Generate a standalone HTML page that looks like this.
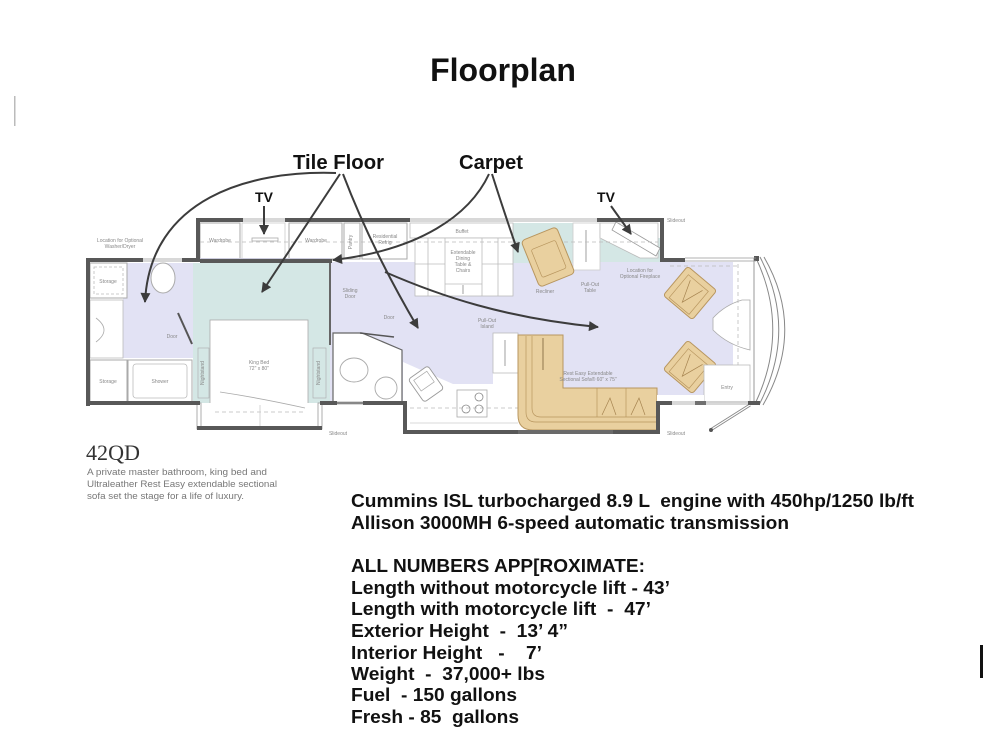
<!DOCTYPE html>
<html><head><meta charset="utf-8">
<style>
html,body{margin:0;padding:0;background:#fff;}
svg{display:block;}
</style></head><body>
<svg width="1000" height="750" viewBox="0 0 1000 750" xmlns="http://www.w3.org/2000/svg" font-family="Liberation Sans, Arial, sans-serif">
<defs>
<marker id="ah" viewBox="0 0 10 10" refX="9" refY="5" markerUnits="userSpaceOnUse" markerWidth="11" markerHeight="10" orient="auto">
<path d="M0,0 L10,5 L0,10 Z" fill="#3c3c3c"/>
</marker>
</defs>
<rect width="1000" height="750" fill="#fff"/>

<!-- page edge marks -->
<rect x="14" y="96" width="1.5" height="30" fill="#bbb"/>
<rect x="980" y="645" width="3" height="33" fill="#111"/>

<!-- Title -->
<text x="503" y="81" font-size="32" font-weight="bold" text-anchor="middle" fill="#111">Floorplan</text>

<!-- ====== FLOORPLAN ====== -->
<rect x="123" y="263" width="70" height="95" fill="#e2e2f4"/>
<rect x="193" y="263" width="137" height="140" fill="#d4e7e5"/>
<rect x="330" y="262" width="422" height="140" fill="#e2e2f4"/>
<rect x="513" y="223" width="60" height="40" fill="#d4e7e5"/>
<rect x="600" y="238" width="60" height="24" fill="#d4e7e5"/>

<rect x="200" y="223" width="40" height="36" fill="#fff" stroke="#aaa" stroke-width="1"/>
<rect x="242" y="223" width="43" height="36" fill="#fff" stroke="#ccc" stroke-width="0.8"/>
<rect x="252" y="238" width="26" height="3" fill="none" stroke="#aaa" stroke-width="0.8"/>
<rect x="289" y="223" width="53" height="36" fill="#fff" stroke="#aaa" stroke-width="1"/>
<rect x="344" y="223" width="16" height="36" fill="#fff" stroke="#aaa" stroke-width="1"/>
<rect x="362" y="223" width="45" height="36" fill="#fff" stroke="#aaa" stroke-width="1"/>
<rect x="200" y="258" width="130" height="4" fill="#ccd"/>

<rect x="410" y="223" width="103" height="15" fill="#fff" stroke="#bbb" stroke-width="0.8"/>
<rect x="415" y="238" width="98" height="58" fill="#fff" stroke="#bbb" stroke-width="0.8"/>
<line x1="428" y1="238" x2="428" y2="296" stroke="#bbb" stroke-width="0.8"/>
<line x1="445" y1="238" x2="445" y2="296" stroke="#bbb" stroke-width="0.8"/>
<line x1="482" y1="238" x2="482" y2="296" stroke="#bbb" stroke-width="0.8"/>
<line x1="498" y1="238" x2="498" y2="296" stroke="#bbb" stroke-width="0.8"/>
<line x1="415" y1="264" x2="445" y2="264" stroke="#bbb" stroke-width="0.8"/>
<line x1="482" y1="264" x2="513" y2="264" stroke="#bbb" stroke-width="0.8"/>
<line x1="445" y1="284" x2="482" y2="284" stroke="#bbb" stroke-width="0.8"/>
<line x1="463" y1="285" x2="463" y2="294" stroke="#888" stroke-width="0.8"/>

<rect x="573" y="223" width="27" height="47" fill="#fff" stroke="#ccc" stroke-width="0.8"/>
<line x1="586" y1="230" x2="586" y2="262" stroke="#888" stroke-width="0.8"/>
<rect x="600" y="223" width="58" height="16" fill="#fff"/>
<polygon points="600,223 658,223 658,258 640,258 600,238" fill="#fff" stroke="#bbb" stroke-width="0.8"/>
<polygon points="616,222 660,248 656,256 612,230" fill="#fff" stroke="#999" stroke-width="0.8"/>

<line x1="200" y1="242" x2="658" y2="242" stroke="#bbb" stroke-width="0.8" stroke-dasharray="4,3"/>

<!-- rear bath -->
<rect x="90" y="263" width="37" height="35" fill="#fff" stroke="#aaa" stroke-width="1"/>
<rect x="94" y="267" width="29" height="27" fill="none" stroke="#bbb" stroke-width="0.8" stroke-dasharray="3,2"/>
<rect x="90" y="300" width="33" height="58" fill="#fff" stroke="#bbb" stroke-width="0.8"/>
<path d="M96,318 Q112,330 96,342" fill="none" stroke="#aaa" stroke-width="0.8"/>
<rect x="90" y="360" width="37" height="42" fill="#fff" stroke="#aaa" stroke-width="1"/>
<rect x="128" y="360" width="64" height="42" fill="#fff" stroke="#aaa" stroke-width="1"/>
<rect x="133" y="364" width="54" height="34" rx="3" fill="none" stroke="#bbb" stroke-width="0.8"/>
<ellipse cx="163" cy="278" rx="12" ry="15" fill="#fff" stroke="#aaa" stroke-width="1"/>
<line x1="178" y1="313" x2="192" y2="344" stroke="#555" stroke-width="2"/>

<!-- bedroom -->
<polygon points="193,332 210,320 308,320 330,332 330,403 193,403" fill="#d4e7e5"/>
<rect x="210" y="320" width="98" height="85" fill="#fff" stroke="#aaa" stroke-width="0.8"/>
<rect x="198" y="348" width="11" height="50" fill="#d4e7e5" stroke="#aaa" stroke-width="0.6"/>
<rect x="313" y="348" width="13" height="50" fill="#d4e7e5" stroke="#aaa" stroke-width="0.6"/>
<rect x="197" y="403" width="125" height="25" fill="#fff"/>
<line x1="215" y1="412" x2="305" y2="412" stroke="#bbb" stroke-width="0.8" stroke-dasharray="4,3"/>
<path d="M220,392 Q260,398 305,408" fill="none" stroke="#aaa" stroke-width="0.8"/>
<line x1="260" y1="405" x2="260" y2="428" stroke="#ccc" stroke-width="0.8"/>
<rect x="197" y="403" width="4" height="26" fill="#fff" stroke="#999" stroke-width="0.8"/>
<rect x="318" y="403" width="4" height="26" fill="#fff" stroke="#999" stroke-width="0.8"/>

<!-- mid bath -->
<polygon points="333,333 362,333 402,350 402,403 333,403" fill="#fff" stroke="#666" stroke-width="1.2"/>
<ellipse cx="354" cy="370" rx="14" ry="12" fill="#fff" stroke="#aaa" stroke-width="0.9"/>
<circle cx="386" cy="388" r="11" fill="#fff" stroke="#aaa" stroke-width="0.9"/>
<line x1="360" y1="333" x2="394" y2="337" stroke="#555" stroke-width="1.5"/>
<line x1="330" y1="262" x2="330" y2="345" stroke="#666" stroke-width="2"/>

<!-- kitchen -->
<polygon points="403,362 453,384 493,384 493,373 518,373 518,432 403,432" fill="#fff"/>
<rect x="493" y="333" width="25" height="40" fill="#fff" stroke="#bbb" stroke-width="0.8"/>
<line x1="505" y1="340" x2="505" y2="366" stroke="#888" stroke-width="0.8"/>
<rect x="457" y="390" width="30" height="27" fill="#fff" stroke="#aaa" stroke-width="0.8"/>
<circle cx="479" cy="397" r="4" fill="none" stroke="#888" stroke-width="0.8"/>
<circle cx="466" cy="409" r="4" fill="none" stroke="#888" stroke-width="0.8"/>
<circle cx="479" cy="409" r="4" fill="none" stroke="#888" stroke-width="0.8"/>
<line x1="410" y1="408" x2="518" y2="408" stroke="#bbb" stroke-width="0.8" stroke-dasharray="4,3"/>
<line x1="410" y1="423" x2="518" y2="423" stroke="#ccc" stroke-width="0.8"/>
<g transform="translate(426,384) rotate(-35)">
<rect x="-12" y="-14" width="24" height="28" rx="3" fill="#fff" stroke="#999" stroke-width="0.9"/>
<rect x="-8" y="-10" width="16" height="13" fill="none" stroke="#aaa" stroke-width="0.7"/>
</g>

<!-- sofa -->
<path d="M518,335 L563,335 L563,388 L657,388 L657,430 L533,430 Q518,430 518,415 Z" fill="#e9d09f" stroke="#b8965f" stroke-width="1"/>
<path d="M526,336 L526,412 Q526,422 536,422 L657,422" fill="none" stroke="#b8965f" stroke-width="0.7"/>
<path d="M532,336 L532,408 Q532,417 541,417 L657,417" fill="none" stroke="#b8965f" stroke-width="0.7"/>
<line x1="597" y1="388" x2="597" y2="417" stroke="#b8965f" stroke-width="0.7"/>
<line x1="626" y1="388" x2="626" y2="417" stroke="#b8965f" stroke-width="0.7"/>
<path d="M602,415 L610,398 L616,415 M631,415 L639,398 L645,415" fill="none" stroke="#a5834f" stroke-width="0.7"/>
<line x1="543" y1="338" x2="543" y2="370" stroke="#7a6038" stroke-width="0.8"/>

<!-- recliner -->
<g transform="translate(548,257) rotate(-22)">
<rect x="-19" y="-25" width="38" height="50" rx="4" fill="#e9d09f" stroke="#b8965f" stroke-width="1"/>
<rect x="-13" y="-13" width="26" height="30" rx="2" fill="none" stroke="#b8965f" stroke-width="0.7"/>
</g>

<!-- front chairs -->
<g transform="translate(690,293) rotate(40)">
<rect x="-19" y="-19" width="38" height="38" rx="3" fill="#e9d09f" stroke="#b8965f" stroke-width="1"/>
<rect x="-13" y="-13" width="26" height="30" fill="none" stroke="#b8965f" stroke-width="0.7"/>
<path d="M-8,-10 L0,12 L8,-10" fill="none" stroke="#a5834f" stroke-width="0.7"/>
</g>
<g transform="translate(690,367) rotate(40)">
<rect x="-19" y="-19" width="38" height="38" rx="3" fill="#e9d09f" stroke="#b8965f" stroke-width="1"/>
<rect x="-13" y="-13" width="26" height="30" fill="none" stroke="#b8965f" stroke-width="0.7"/>
<path d="M-8,-10 L0,12 L8,-10" fill="none" stroke="#a5834f" stroke-width="0.7"/>
</g>

<!-- front section -->
<rect x="733" y="262" width="22" height="140" fill="#fff"/>
<path d="M713,318 Q725,305 742,300 L750,300 L750,350 Q728,345 713,330 Z" fill="#fff" stroke="#aaa" stroke-width="0.8"/>
<line x1="738" y1="264" x2="738" y2="400" stroke="#bbb" stroke-width="0.8" stroke-dasharray="4,3"/>
<line x1="670" y1="266" x2="738" y2="266" stroke="#bbb" stroke-width="0.8" stroke-dasharray="4,3"/>
<rect x="704" y="365" width="46" height="37" fill="#fff" stroke="#bbb" stroke-width="0.8"/>
<rect x="657" y="395" width="47" height="8" fill="#fff"/>
<path d="M756,258 Q790,330 755,404" fill="none" stroke="#888" stroke-width="1"/>
<path d="M760,257 Q798,330 759,405" fill="none" stroke="#888" stroke-width="1"/>
<path d="M764,257 Q806,330 763,405" fill="none" stroke="#888" stroke-width="1"/>
<line x1="754" y1="258" x2="754" y2="404" stroke="#999" stroke-width="1"/>
<line x1="750" y1="405" x2="712" y2="429" stroke="#888" stroke-width="3"/>
<line x1="750" y1="405" x2="712" y2="429" stroke="#fff" stroke-width="1.2"/>
<circle cx="711" cy="430" r="2" fill="#555"/>

<!-- ===== WALLS ===== -->
<g fill="#585858">
<rect x="86" y="258" width="4" height="148"/>
<rect x="86" y="258" width="57" height="4"/>
<rect x="182" y="258" width="18" height="4"/>
<rect x="196" y="218" width="4" height="44"/>
<rect x="196" y="218" width="47" height="4"/>
<rect x="285" y="218" width="125" height="4"/>
<rect x="597" y="218" width="67" height="4"/>
<rect x="660" y="218" width="4" height="44"/>
<rect x="660" y="258" width="25" height="4"/>
<rect x="200" y="259" width="132" height="4"/>
<rect x="86" y="401" width="114" height="4"/>
<rect x="197" y="426" width="125" height="4"/>
<rect x="320" y="401" width="17" height="4"/>
<rect x="363" y="401" width="44" height="4"/>
<rect x="403" y="401" width="4" height="33"/>
<rect x="403" y="430" width="115" height="4"/>
<rect x="613" y="430" width="47" height="4"/>
<rect x="656" y="401" width="4" height="33"/>
<rect x="656" y="401" width="16" height="4"/>
<rect x="695" y="401" width="11" height="4"/>
<rect x="748" y="401" width="12" height="4"/>
<rect x="754" y="256" width="5" height="5"/>
</g>
<g stroke="#999" stroke-width="0.8" fill="none">
<line x1="243" y1="219" x2="285" y2="219"/><line x1="243" y1="221" x2="285" y2="221"/>
<line x1="410" y1="219" x2="597" y2="219"/><line x1="410" y1="221" x2="597" y2="221"/>
<line x1="685" y1="258" x2="756" y2="258"/><line x1="685" y1="261" x2="756" y2="261"/>
<line x1="143" y1="259" x2="182" y2="259"/><line x1="143" y1="261" x2="182" y2="261"/>
<line x1="337" y1="402" x2="363" y2="402"/><line x1="337" y1="404" x2="363" y2="404"/>
<line x1="672" y1="402" x2="748" y2="402"/><line x1="672" y1="404" x2="748" y2="404"/>
</g>
<rect x="518" y="430" width="95" height="4" fill="#6a6a6a"/>

<!-- small labels -->
<g font-size="5" fill="#888" text-anchor="middle">
<text x="120" y="242">Location for Optional</text>
<text x="120" y="248">Washer/Dryer</text>
<text x="108" y="283">Storage</text>
<text x="108" y="383">Storage</text>
<text x="160" y="383">Shower</text>
<text x="172" y="338">Door</text>
<text x="220" y="242">Wardrobe</text>
<text x="316" y="242">Wardrobe</text>
<text x="352" y="242" transform="rotate(-90 352 242)">Pantry</text>
<text x="385" y="238">Residential</text>
<text x="385" y="244">Refrig</text>
<text x="259" y="364">King Bed</text>
<text x="259" y="370">72" x 80"</text>
<text x="204" y="373" transform="rotate(-90 204 373)">Nightstand</text>
<text x="320" y="373" transform="rotate(-90 320 373)">Nightstand</text>
<text x="350" y="292">Sliding</text>
<text x="350" y="298">Door</text>
<text x="389" y="319">Door</text>
<text x="462" y="233">Buffet</text>
<text x="463" y="254">Extendable</text>
<text x="463" y="260">Dining</text>
<text x="463" y="266">Table &amp;</text>
<text x="463" y="272">Chairs</text>
<text x="545" y="293">Recliner</text>
<text x="590" y="286">Pull-Out</text>
<text x="590" y="292">Table</text>
<text x="640" y="272">Location for</text>
<text x="640" y="278">Optional Fireplace</text>
<text x="487" y="322">Pull-Out</text>
<text x="487" y="328">Island</text>
<text x="588" y="375">Rest Easy Extendable</text>
<text x="588" y="381">Sectional Sofa® 60" x 75"</text>
<text x="727" y="389">Entry</text>
<text x="338" y="435">Slideout</text>
<text x="676" y="435">Slideout</text>
<text x="676" y="222">Slideout</text>
</g>

<!-- ===== ANNOTATION ARROWS ===== -->
<g fill="none" stroke="#3c3c3c" stroke-width="2" marker-end="url(#ah)">
<path d="M336,173 C250,170 150,198 145,302"/>
<path d="M340,174 L262,292"/>
<path d="M343,174 Q372,250 418,328"/>
<path d="M385,272 C440,296 505,318 598,327"/>
<path d="M489,174 C470,215 420,250 333,260"/>
<path d="M492,174 Q505,215 518,252"/>
<path d="M264,206 L264,234"/>
<path d="M611,206 L631,234"/>
</g>
<g font-weight="bold" fill="#111">
<text x="293" y="169" font-size="20" textLength="91" lengthAdjust="spacingAndGlyphs">Tile Floor</text>
<text x="459" y="169" font-size="20" textLength="64" lengthAdjust="spacingAndGlyphs">Carpet</text>
<text x="264" y="202" font-size="14" text-anchor="middle">TV</text>
<text x="606" y="202" font-size="14" text-anchor="middle">TV</text>
</g>

<!-- 42QD description -->
<text x="86" y="460" font-family="Liberation Serif, serif" font-size="22" fill="#333" textLength="54" lengthAdjust="spacingAndGlyphs">42QD</text>
<g font-size="9.5" fill="#777">
<text x="87" y="475" textLength="180" lengthAdjust="spacingAndGlyphs">A private master bathroom, king bed and</text>
<text x="87" y="487" textLength="190" lengthAdjust="spacingAndGlyphs">Ultraleather Rest Easy extendable sectional</text>
<text x="87" y="499" textLength="157" lengthAdjust="spacingAndGlyphs">sofa set the stage for a life of luxury.</text>
</g>

<!-- specs -->
<g font-size="18" font-weight="bold" fill="#111">
<text x="351" y="507" textLength="563" lengthAdjust="spacingAndGlyphs" xml:space="preserve">Cummins ISL turbocharged 8.9 L  engine with 450hp/1250 lb/ft</text>
<text x="351" y="529" textLength="438" lengthAdjust="spacingAndGlyphs">Allison 3000MH 6-speed automatic transmission</text>
<text x="351" y="572" textLength="294" lengthAdjust="spacingAndGlyphs">ALL NUMBERS APP[ROXIMATE:</text>
<text x="351" y="594" textLength="319" lengthAdjust="spacingAndGlyphs">Length without motorcycle lift - 43’</text>
<text x="351" y="615" textLength="300" lengthAdjust="spacingAndGlyphs" xml:space="preserve">Length with motorcycle lift  -  47’</text>
<text x="351" y="637" textLength="217" lengthAdjust="spacingAndGlyphs" xml:space="preserve">Exterior Height  -  13’ 4”</text>
<text x="351" y="659" textLength="191" lengthAdjust="spacingAndGlyphs" xml:space="preserve">Interior Height   -    7’</text>
<text x="351" y="680" textLength="194" lengthAdjust="spacingAndGlyphs" xml:space="preserve">Weight  -  37,000+ lbs</text>
<text x="351" y="701" textLength="166" lengthAdjust="spacingAndGlyphs" xml:space="preserve">Fuel  - 150 gallons</text>
<text x="351" y="723" textLength="168" lengthAdjust="spacingAndGlyphs" xml:space="preserve">Fresh - 85  gallons</text>
</g>
</svg>
</body></html>
